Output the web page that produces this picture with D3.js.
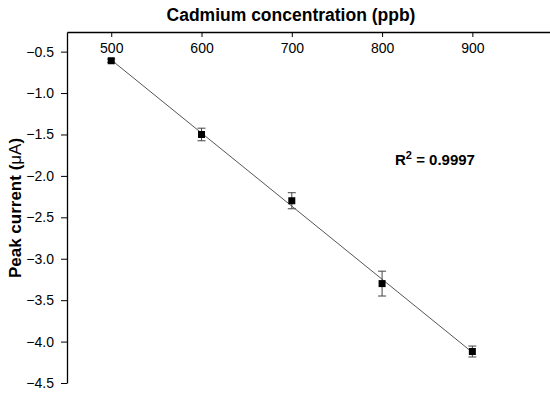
<!DOCTYPE html>
<html>
<head>
<meta charset="utf-8">
<script src="https://d3js.org/d3.v7.min.js"></script>
<style>
  body { margin: 0; background: #fff; }
  text { font-family: "Liberation Sans", Arial, sans-serif; fill: #000; }
</style>
</head>
<body>
<svg id="chart" width="550" height="396"></svg>
<script>
// DATA
var concentrations = [500, 600, 700, 800, 900];
var peakCurrent = [-0.61, -1.50, -2.30, -3.30, -4.12];
var errors = [0.02, 0.076, 0.097, 0.15, 0.066];
var fitLine = [[500, -0.60], [900, -4.13]];
var xTicks = [500, 600, 700, 800, 900];
var yTicks = [-0.5, -1.0, -1.5, -2.0, -2.5, -3.0, -3.5, -4.0, -4.5];

var svg = d3.select('#chart');

// SCALES
var x = d3.scaleLinear()
            .domain([451, 986])
            .range([67, 550]);
var y = d3.scaleLinear()
            .domain([-0.263, -4.5])
            .range([32, 383]);

// X-Axis on top, ticks inside
var xAxis = svg.append('g')
            .attr('transform', 'translate(0,32)')
            .call(d3.axisBottom(x).tickValues(xTicks).tickSize(5).tickSizeOuter(0).tickPadding(6).tickFormat(d3.format('d')));
xAxis.selectAll('text').style('font-size', '14px');
xAxis.select('.domain').attr('stroke-width', 1.3);

// Y-Axis
var yAxis = svg.append('g')
            .attr('transform', 'translate(67,0)')
            .call(d3.axisLeft(y).tickValues(yTicks).tickSize(6).tickSizeOuter(0).tickPadding(7).tickFormat(d3.format('.1f')));
yAxis.selectAll('text').style('font-size', '14px');
yAxis.select('.domain').attr('stroke-width', 1.3);

// Axis titles
svg.append('text')
    .attr('text-anchor', 'middle')
    .attr('x', 291)
    .attr('y', 21)
    .style('font-size', '17.5px')
    .style('font-weight', 'bold')
    .text('Cadmium concentration (ppb)');

var yTitle = svg.append('text')
    .attr('text-anchor', 'middle')
    .attr('transform', 'translate(21,208) rotate(-90)')
    .style('font-size', '17px')
    .style('font-weight', 'bold');
yTitle.append('tspan').text('Peak current (');
yTitle.append('tspan').style('font-weight', 'normal').text('μA');
yTitle.append('tspan').text(')');

// Fit line
var lineGen = d3.line()
                .x(function(d) { return x(d[0]); })
                .y(function(d) { return y(d[1]); });
svg.append('path')
    .attr('d', lineGen(fitLine))
    .style('fill', 'none')
    .style('stroke', '#555')
    .style('stroke-width', '1px');

// Error bars
var pts = concentrations.map(function(c, i) {
    return { x: c, y: peakCurrent[i], e: errors[i] };
});
var eb = svg.append('g').selectAll('g').data(pts).enter().append('g')
            .style('stroke', '#444')
            .style('stroke-width', '1px');
eb.append('line')
    .attr('x1', function(d) { return x(d.x); })
    .attr('x2', function(d) { return x(d.x); })
    .attr('y1', function(d) { return y(d.y + d.e); })
    .attr('y2', function(d) { return y(d.y - d.e); });
eb.append('line')
    .attr('x1', function(d) { return x(d.x) - 4; })
    .attr('x2', function(d) { return x(d.x) + 4; })
    .attr('y1', function(d) { return y(d.y + d.e); })
    .attr('y2', function(d) { return y(d.y + d.e); });
eb.append('line')
    .attr('x1', function(d) { return x(d.x) - 4; })
    .attr('x2', function(d) { return x(d.x) + 4; })
    .attr('y1', function(d) { return y(d.y - d.e); })
    .attr('y2', function(d) { return y(d.y - d.e); });

// Markers
svg.append('g').selectAll('rect').data(pts).enter().append('rect')
    .attr('x', function(d) { return x(d.x) - 3.5; })
    .attr('y', function(d) { return y(d.y) - 3.5; })
    .attr('width', 7)
    .attr('height', 7)
    .style('fill', '#000');

// R squared label
var r2 = svg.append('text')
    .attr('x', 395)
    .attr('y', 165)
    .style('font-size', '15px')
    .style('font-weight', 'bold');
r2.append('tspan').text('R');
r2.append('tspan').attr('dy', -6).style('font-size', '11px').text('2');
r2.append('tspan').attr('dy', 6).text(' = 0.9997');
</script>
</body>
</html>
